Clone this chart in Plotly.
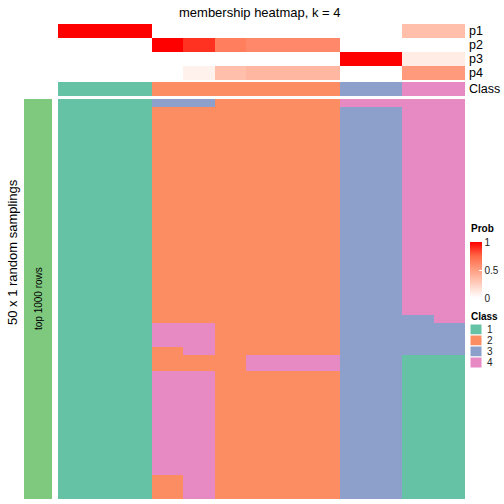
import plotly.graph_objects as go

# ---------------- data ----------------
samples = list(range(13))
column_class = [1, 1, 1, 2, 2, 2, 2, 2, 2, 3, 3, 4, 4]

p1 = [1, 1, 1, 0, 0, 0, 0, 0, 0, 0, 0, 0.33, 0.33]
p2 = [0, 0, 0, 1, 0.88, 0.65, 0.6, 0.6, 0.6, 0, 0, 0, 0]
p3 = [0, 0, 0, 0, 0, 0, 0, 0, 0, 1, 1, 0.1, 0.1]
p4 = [0, 0, 0, 0, 0.07, 0.33, 0.37, 0.37, 0.37, 0, 0, 0.52, 0.52]
prob_labels = ["p1", "p2", "p3", "p4"]

# class assigned in each of the 50 random samplings (per column, top to bottom)
col00 = [1] * 50
col01 = [1] * 50
col02 = [1] * 50
col03 = [3] * 1 + [2] * 27 + [4] * 3 + [2] * 3 + [4] * 13 + [2] * 3
col04 = [3] * 1 + [2] * 27 + [4] * 4 + [2] * 2 + [4] * 16
col05 = [2] * 50
col06 = [2] * 32 + [4] * 2 + [2] * 16
col07 = [2] * 32 + [4] * 2 + [2] * 16
col08 = [2] * 32 + [4] * 2 + [2] * 16
col09 = [4] * 1 + [3] * 49
col10 = [4] * 1 + [3] * 49
col11 = [4] * 27 + [3] * 5 + [1] * 18
col12 = [4] * 28 + [3] * 4 + [1] * 18
columns = [col00, col01, col02, col03, col04, col05, col06, col07, col08,
           col09, col10, col11, col12]
n_rows = 50

class_colors = ["#66C2A5", "#FC8D62", "#8DA0CB", "#E78AC3"]
class_names = ["1", "2", "3", "4"]

# ---------------- helpers ----------------
W = H = 504


def px_x(v):
    return v / W


def px_y(v):
    return 1 - v / H


class_scale = []
for i, c in enumerate(class_colors):
    class_scale.append([i / 4, c])
    class_scale.append([(i + 1) / 4, c])

prob_scale = [[0, "#FFFFFF"], [0.25, "#FFCFBF"], [0.5, "#FF9E82"],
              [0.75, "#FF6846"], [1, "#FF0000"]]

main_z = [[columns[c][r] for c in samples] for r in range(n_rows)]
prob_z = [p1, p2, p3, p4]

fig = go.Figure()

fig.add_trace(go.Heatmap(
    z=main_z, x=samples, y=list(range(n_rows)),
    colorscale=class_scale, zmin=0.5, zmax=4.5, showscale=False,
    xaxis="x", yaxis="y", hoverinfo="skip"))

fig.add_trace(go.Heatmap(
    z=prob_z, x=samples, y=prob_labels,
    colorscale=prob_scale, zmin=0, zmax=1, showscale=True,
    xaxis="x", yaxis="y2", hoverinfo="skip",
    colorbar=dict(
        x=px_x(470), xanchor="left", y=px_y(298), yanchor="bottom",
        lenmode="pixels", len=56, thickness=12, outlinewidth=0,
        tickvals=[0, 0.5, 1], ticktext=["0", "0.5", "1"],
        ticks="inside", ticklen=3, tickcolor="white",
        tickfont=dict(size=10, color="#222222", family="Liberation Sans"),
        xpad=0, ypad=0)))

fig.add_trace(go.Heatmap(
    z=[column_class], x=samples, y=["Class"],
    colorscale=class_scale, zmin=0.5, zmax=4.5, showscale=False,
    xaxis="x", yaxis="y3", hoverinfo="skip"))

hidden = dict(showticklabels=False, showgrid=False, zeroline=False,
              ticks="", showline=False)

fig.update_layout(
    width=W, height=H, margin=dict(l=0, r=0, t=0, b=0),
    paper_bgcolor="white", plot_bgcolor="white",
    font=dict(family="Liberation Sans", color="black"),
    xaxis=dict(domain=[px_x(58), px_x(465)], range=[-0.5, 12.5], **hidden),
    yaxis=dict(domain=[px_y(499), px_y(99)], range=[n_rows - 0.5, -0.5], **hidden),
    yaxis2=dict(domain=[px_y(80), px_y(24)], autorange="reversed", **hidden),
    yaxis3=dict(domain=[px_y(96), px_y(82)], **hidden),
    showlegend=False,
)

annotations = []
# title
annotations.append(dict(text="membership heatmap, k = 4", x=px_x(260), y=px_y(12),
                        xref="paper", yref="paper", showarrow=False,
                        font=dict(size=13), xanchor="center", yanchor="middle"))
# annotation row labels
for lab, yc in zip(prob_labels + ["Class"], [31, 45, 59, 73, 89]):
    annotations.append(dict(text=lab, x=px_x(467), y=px_y(yc), xref="paper", yref="paper",
                            showarrow=False, font=dict(size=12.5),
                            xanchor="left", yanchor="middle"))
# row titles
annotations.append(dict(text="50 x 1 random samplings", x=px_x(12), y=px_y(252),
                        xref="paper", yref="paper", showarrow=False, textangle=-90,
                        font=dict(size=13), xanchor="center", yanchor="middle"))
annotations.append(dict(text="top 1000 rows", x=px_x(38), y=px_y(299),
                        xref="paper", yref="paper", showarrow=False, textangle=-90,
                        font=dict(size=10), xanchor="center", yanchor="middle"))
# legend titles
annotations.append(dict(text="<b>Prob</b>", x=px_x(469), y=px_y(229),
                        xref="paper", yref="paper", showarrow=False,
                        font=dict(size=10), xanchor="left", yanchor="middle"))
annotations.append(dict(text="<b>Class</b>", x=px_x(469), y=px_y(316),
                        xref="paper", yref="paper", showarrow=False,
                        font=dict(size=10), xanchor="left", yanchor="middle"))
shapes = [dict(type="rect", xref="paper", yref="paper",
               x0=px_x(24), x1=px_x(52), y0=px_y(499), y1=px_y(99),
               fillcolor="#7FC97F", line=dict(width=0), layer="below")]
for i, (c, n) in enumerate(zip(class_colors, class_names)):
    top = 324 + 11 * i
    shapes.append(dict(type="rect", xref="paper", yref="paper",
                       x0=px_x(470), x1=px_x(482), y0=px_y(top + 11), y1=px_y(top),
                       fillcolor=c, line=dict(width=1, color="white")))
    annotations.append(dict(text=n, x=px_x(485), y=px_y(top + 5.5),
                            xref="paper", yref="paper", showarrow=False,
                            font=dict(size=10, color="#222222"),
                            xanchor="left", yanchor="middle"))

fig.update_layout(annotations=annotations, shapes=shapes)
fig.write_html("out.html", config={"displayModeBar": False},
               post_script="document.body.style.margin='0';document.body.style.overflow='hidden';")
